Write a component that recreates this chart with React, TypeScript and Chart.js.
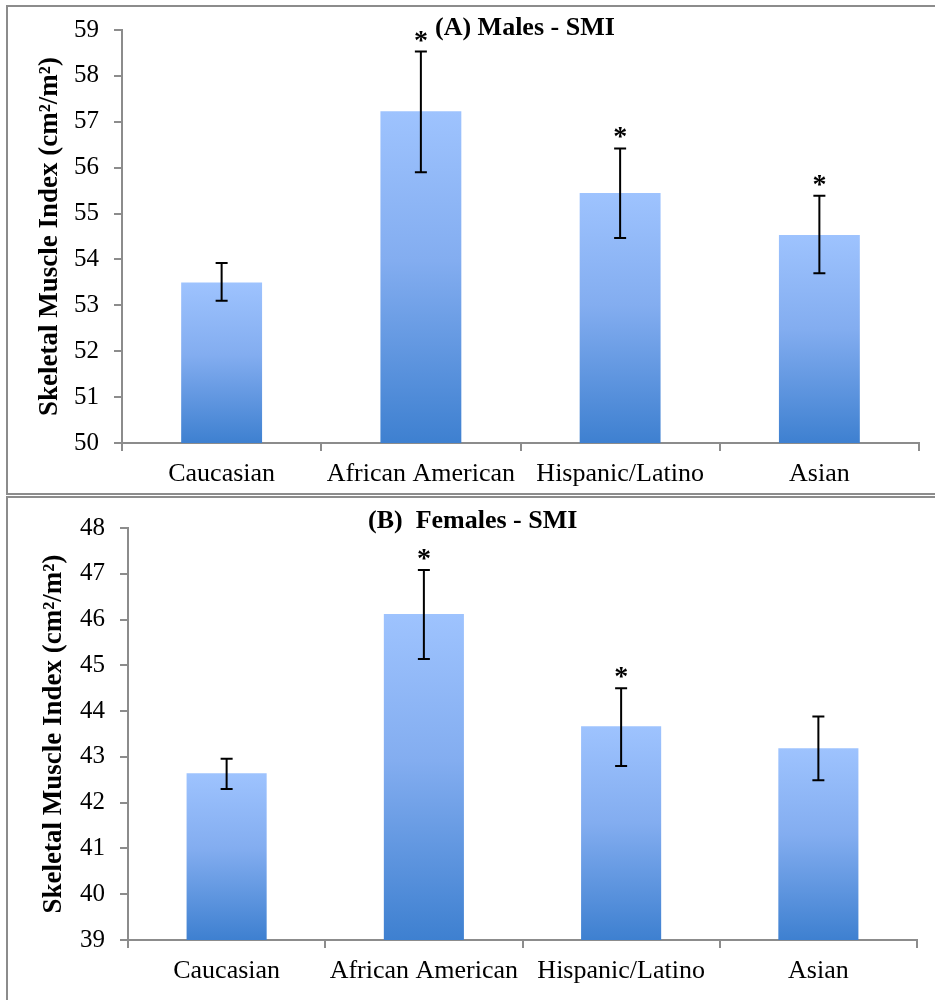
import React, { useEffect, useRef } from "react";
import { Chart, registerables } from "chart.js";

Chart.register(...registerables);

// ---- Data ----
const categories = ["Caucasian", "African American", "Hispanic/Latino", "Asian"];

const malesTitle = "(A) Males - SMI";
const malesSMI = [53.5, 57.23, 55.45, 54.53];
const malesLow = [53.1, 55.9, 54.47, 53.7];
const malesHigh = [53.92, 58.53, 56.42, 55.39];
const malesSig = [false, true, true, true];
const malesTicks = { min: 50, max: 59, step: 1 };

const femalesTitle = "(B)  Females - SMI";
const femalesSMI = [42.64, 46.12, 43.67, 43.19];
const femalesLow = [42.3, 45.14, 42.8, 42.49];
const femalesHigh = [42.96, 47.08, 44.5, 43.88];
const femalesSig = [false, true, true, false];
const femalesTicks = { min: 39, max: 48, step: 1 };

const yAxisTitle = "Skeletal Muscle Index (cm\u00B2/m\u00B2)";

const FONT = "'Liberation Serif', 'Times New Roman', serif";
const AXIS = "#8c8c8c";

type PanelProps = {
  top: number;
  height: number;
  title: string;
  titleX: number;
  titleY: number;
  values: number[];
  low: number[];
  high: number[];
  sig: boolean[];
  ticks: { min: number; max: number; step: number };
  padTop: number;
  padRight: number;
  yWidth: number;
  xHeight: number;
  yTitlePad: number;
};

function Panel(p: PanelProps) {
  const ref = useRef<HTMLCanvasElement | null>(null);
  useEffect(() => {
    if (!ref.current) return;
    const overlay = {
      id: "overlay",
      afterDatasetsDraw(chart: any) {
        const ctx = chart.ctx;
        const y = chart.scales.y;
        const meta = chart.getDatasetMeta(0);
        ctx.save();
        ctx.strokeStyle = "#000";
        ctx.lineWidth = 2;
        meta.data.forEach((bar: any, i: number) => {
          const x = bar.x;
          const yl = y.getPixelForValue(p.low[i]);
          const yh = y.getPixelForValue(p.high[i]);
          ctx.beginPath();
          ctx.moveTo(x, yl);
          ctx.lineTo(x, yh);
          ctx.moveTo(x - 6, yl);
          ctx.lineTo(x + 6, yl);
          ctx.moveTo(x - 6, yh);
          ctx.lineTo(x + 6, yh);
          ctx.stroke();
          if (p.sig[i]) {
            ctx.fillStyle = "#000";
            ctx.font = `bold 28px ${FONT}`;
            ctx.textAlign = "center";
            ctx.textBaseline = "alphabetic";
            ctx.fillText("*", x, yh - 3);
          }
        });
        ctx.fillStyle = "#000";
        ctx.font = `bold 26px ${FONT}`;
        ctx.textAlign = "left";
        ctx.textBaseline = "alphabetic";
        ctx.fillText(p.title, p.titleX, p.titleY);
        ctx.restore();
      },
    };
    const chart = new Chart(ref.current, {
      type: "bar",
      data: {
        labels: categories,
        datasets: [
          {
            data: p.values,
            barPercentage: 0.406,
            categoryPercentage: 1,
            backgroundColor: (c: any) => {
              const ch = c.chart;
              if (!ch.chartArea || c.raw === undefined) return "#6fa0e8";
              const ys = ch.scales.y;
              const t = ys.getPixelForValue(c.raw);
              const b = ys.getPixelForValue(ys.min);
              const g = ch.ctx.createLinearGradient(0, t, 0, b);
              g.addColorStop(0, "#9ec3fe");
              g.addColorStop(0.45, "#83adf0");
              g.addColorStop(1, "#3e80d0");
              return g;
            },
          },
        ],
      },
      options: {
        animation: false,
        responsive: false,
        maintainAspectRatio: false,
        layout: { padding: { top: p.padTop, right: p.padRight, left: 0, bottom: 0 } },
        plugins: { legend: { display: false }, tooltip: { enabled: false }, title: { display: false } },
        scales: {
          x: {
            offset: true,
            grid: { display: true, drawOnChartArea: false, drawTicks: true, tickLength: 8, offset: true, color: AXIS, lineWidth: 2 },
            border: { display: true, color: AXIS, width: 2 },
            ticks: { color: "#000", font: { family: FONT, size: 26 }, padding: 8, maxRotation: 0, autoSkip: false },
            afterFit: (s: any) => {
              s.height = p.xHeight;
            },
          },
          y: {
            min: p.ticks.min,
            max: p.ticks.max,
            grid: { display: true, drawOnChartArea: false, drawTicks: true, tickLength: 8, color: AXIS, lineWidth: 2 },
            border: { display: true, color: AXIS, width: 2 },
            ticks: { stepSize: p.ticks.step, color: "#000", font: { family: FONT, size: 25 }, padding: 15 },
            title: {
              display: true,
              text: yAxisTitle,
              color: "#000",
              font: { family: FONT, size: 27, weight: "bold" },
              padding: { top: p.yTitlePad, bottom: 0 },
            },
            afterFit: (s: any) => {
              s.width = p.yWidth;
            },
          },
        },
      },
      plugins: [overlay],
    } as any);
    return () => chart.destroy();
  }, []);
  return (
    <div style={{ position: "absolute", left: 0, top: p.top, width: 935, height: p.height }}>
      <canvas ref={ref} width={935} height={p.height} style={{ position: "absolute", left: 0, top: 0 }} />
    </div>
  );
}

export default function App() {
  return (
    <div style={{ position: "absolute", left: 0, top: 0, width: 935, height: 1000, overflow: "hidden", background: "#fff" }}>
      <div style={{ position: "absolute", left: 6, top: 5, width: 950, height: 486, border: `2px solid ${AXIS}` }} />
      <div style={{ position: "absolute", left: 6, top: 496, width: 950, height: 520, border: `2px solid ${AXIS}` }} />
      <Panel
        top={0}
        height={494}
        title={malesTitle}
        titleX={435}
        titleY={35}
        values={malesSMI}
        low={malesLow}
        high={malesHigh}
        sig={malesSig}
        ticks={malesTicks}
        padTop={30}
        padRight={16}
        yWidth={122}
        xHeight={51}
        yTitlePad={34}
      />
      <Panel
        top={496}
        height={504}
        title={femalesTitle}
        titleX={368}
        titleY={32}
        values={femalesSMI}
        low={femalesLow}
        high={femalesHigh}
        sig={femalesSig}
        ticks={femalesTicks}
        padTop={32}
        padRight={18}
        yWidth={128}
        xHeight={60}
        yTitlePad={38}
      />
    </div>
  );
}
